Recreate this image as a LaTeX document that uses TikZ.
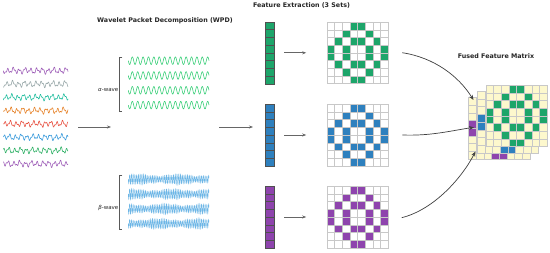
\documentclass[tikz,border=0pt]{standalone}
\usepackage{fontspec}
\setmainfont{DejaVu Sans}
\usetikzlibrary{arrows.meta}
\definecolor{sigA}{HTML}{9B59B6}
\definecolor{sigB}{HTML}{95A5A6}
\definecolor{sigC}{HTML}{1ABC9C}
\definecolor{sigD}{HTML}{E67E22}
\definecolor{sigE}{HTML}{E74C3C}
\definecolor{sigF}{HTML}{3498DB}
\definecolor{sigG}{HTML}{27AE60}
\definecolor{sigH}{HTML}{9B59B6}
\definecolor{alphacol}{HTML}{2ECC71}
\definecolor{betacol}{HTML}{6DB6E6}
\definecolor{fgreen}{HTML}{1DA56A}
\definecolor{fblue}{HTML}{2E80BE}
\definecolor{fpurple}{HTML}{8E44AD}
\definecolor{cream}{HTML}{FDF8CD}
\definecolor{gridline}{HTML}{C8C8C8}
\definecolor{vecline}{HTML}{505050}
\newcommand\drawgrid[5]{%
  \foreach \rr in {0,...,7}{\foreach \cc in {0,...,7}{
    \filldraw[fill=#4, draw=#5, line width=0.35pt] ({#1+\cc*7.7},{#2+\rr*7.7}) rectangle ++(7.7,7.7);}}
  \foreach \rr/\cc in {0/3,0/4,1/2,1/5,2/1,2/3,2/4,2/6,3/0,3/2,3/5,3/7,4/0,4/2,4/5,4/7,5/1,5/3,5/4,5/6,6/2,6/5,7/3,7/4}{
    \filldraw[fill=#3, draw=#5, line width=0.35pt] ({#1+\cc*7.7},{#2+\rr*7.7}) rectangle ++(7.7,7.7);}%
}
\newcommand\drawvec[3]{%
  \fill[#3] (#1,#2) rectangle ++(9.6,62);
  \foreach \rr in {1,...,7}{\draw[vecline, line width=0.3pt] (#1,{#2+\rr*7.75}) -- ++(9.6,0);}
  \draw[vecline, line width=0.5pt] (#1,#2) rectangle ++(9.6,62);%
}
\tikzset{
  titletext/.style={font=\fontsize{6.35}{7.5}\selectfont\bfseries, text=black!85, inner sep=0},
  wavelabel/.style={font=\fontsize{5.5}{6.5}\selectfont, text=black!85, inner sep=0, anchor=east},
  flow/.style={draw=black!60, line width=0.6pt, -{Stealth[length=4pt,width=3pt]}},
  curv/.style={draw=black!75, line width=0.7pt, -{Stealth[length=5pt,width=4pt]}},
  bracket/.style={draw=black!65, line width=0.7pt},
  blockbox/.style={inner sep=0, outer sep=0, draw=none},
}
\begin{document}
\begin{tikzpicture}[x=1pt,y=-1pt]
\fill[white] (0,0) rectangle (550,253);
\useasboundingbox (0,0) rectangle (550,253);

% titles
\node[titletext] (t1) at (165,21) {Wavelet Packet Decomposition (WPD)};
\node[titletext] (t2) at (301.5,6) {Feature Extraction (3 Sets)};
\node[titletext] (t3) at (496,56) {Fused Feature Matrix};

% input signals
\node[blockbox, minimum width=65pt, minimum height=106pt] (inp) at (35.6,117) {};
\foreach \col [count=\i from 0] in {sigA,sigB,sigC,sigD,sigE,sigF,sigG,sigH}{
  \draw[\col, line width=0.55pt] plot[domain=0:64.7, samples=260]
    (\x+3.3, {70.7+13.3*\i + 2.0*sin(\x*62+\i*47) + 1.1*sin(\x*139+\i*83) + 0.7*sin(\x*27+\i*29)});
}

% alpha waves
\node[blockbox, minimum width=113pt, minimum height=172pt] (wpd) at (152.5,143.5) {};
\foreach \i in {0,...,3}{
  \draw[alphacol, line width=0.55pt] plot[domain=0:80.7, samples=300]
    (\x+128.3, {60.7+14.8*\i + 3.8*sin(\x*66.9)});
}
\draw[bracket] (122.3,57.7) -- (119.3,57.7) -- (119.3,111) -- (122.3,111);
\node[wavelabel] (la) at (118.5,89.5) {\textit{α}-wave};

% beta waves
\foreach \i in {0,...,3}{
  \draw[betacol, line width=0.45pt] plot[domain=0:80.7, samples=520]
    (\x+128.3, {179.3+14.8*\i + 8.0*(1+0.22*sin(\x*9+\i*60)+0.12*sin(\x*31+\i*20))*sin(\x*102.5)*cos(\x*102.5)});
}
\draw[bracket] (122.3,175.7) -- (119.3,175.7) -- (119.3,229.3) -- (122.3,229.3);
\node[wavelabel] (lb) at (118.5,208) {\textit{β}-wave};

% big arrows
\coordinate (a1s) at (78,127);
\coordinate (a1e) at (111,127);
\coordinate (a2s) at (219,127);
\coordinate (a2e) at (253,127);
\draw[flow] (a1s) -- (a1e);
\draw[flow] (a2s) -- (a2e);

% feature vectors
\node[blockbox, minimum width=9.6pt, minimum height=62pt] (v1) at (269.8,52.8) {};
\node[blockbox, minimum width=9.6pt, minimum height=62pt] (v2) at (269.8,135) {};
\node[blockbox, minimum width=9.6pt, minimum height=62pt] (v3) at (269.8,217) {};
\drawvec{265}{21.8}{fgreen}
\drawvec{265}{104}{fblue}
\drawvec{265}{186}{fpurple}

% grids
\node[blockbox, minimum width=61.6pt, minimum height=61.6pt] (g1) at (357.5,52.8) {};
\node[blockbox, minimum width=61.6pt, minimum height=61.6pt] (g2) at (357.5,135) {};
\node[blockbox, minimum width=61.6pt, minimum height=61.6pt] (g3) at (357.5,217) {};
\drawgrid{326.7}{22}{fgreen}{white}{gridline}
\drawgrid{326.7}{104.2}{fblue}{white}{gridline}
\drawgrid{326.7}{186.2}{fpurple}{white}{gridline}

\draw[flow, shorten <=9.7pt, shorten >=20.5pt] (v1.east) -- (g1.west);
\draw[flow, shorten <=9.7pt, shorten >=20.5pt] (v2.east) -- (g2.west);
\draw[flow, shorten <=9.7pt, shorten >=20.5pt] (v3.east) -- (g3.west);

% fused matrix (back to front)
\node[blockbox, minimum width=79pt, minimum height=74pt] (fus) at (508,121.5) {};
\drawgrid{468.3}{97.4}{fpurple}{cream}{gridline}
\drawgrid{477.0}{91.2}{fblue}{cream}{gridline}
\drawgrid{485.7}{85.0}{fgreen}{cream}{gridline}

% curved arrows
\coordinate (c1s) at (402.3,52.7);
\coordinate (c2s) at (402.3,135);
\coordinate (c3s) at (401.7,217.7);
\coordinate (f1) at (473.5,100);
\coordinate (f2) at (474,127.3);
\coordinate (f3) at (475.5,151.5);
\draw[curv] (c1s) .. controls +(32,5) and +(-15,-24) .. (f1);
\draw[curv] (c2s) .. controls +(28,1) and +(-26,4) .. (f2);
\draw[curv] (c3s) .. controls +(32,-8) and +(-14,27) .. (f3);
\end{tikzpicture}
\end{document}
